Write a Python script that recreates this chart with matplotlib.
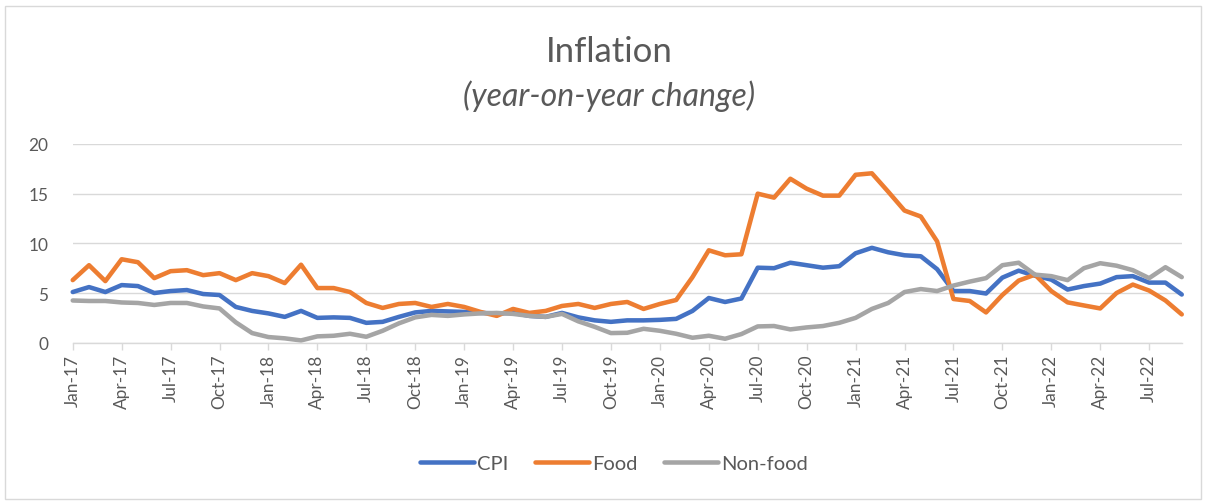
"""
Inflation chart: CPI, food and non-food, year-on-year change, monthly.
"""

import matplotlib.pyplot as plt
import numpy as np
from matplotlib.patches import Rectangle

# monthly values, Jan-17 .. Sep-22
cpi = [
    5.1, 5.6, 5.1, 5.8, 5.7, 5.0, 5.2, 5.3, 4.9, 4.8, 3.6, 3.2,
    2.95, 2.6, 3.2, 2.5, 2.55, 2.5, 2.0, 2.1, 2.6, 3.05, 3.2, 3.15,
    3.1, 3.0, 2.95, 3.0, 2.7, 2.6, 3.0, 2.55, 2.25, 2.1, 2.25, 2.25,
    2.3, 2.4, 3.2, 4.5, 4.1, 4.45, 7.55, 7.5, 8.05, 7.8, 7.55, 7.7,
    9.0, 9.55, 9.1, 8.8, 8.7, 7.4, 5.2, 5.2, 4.95, 6.55, 7.25, 6.75,
    6.35, 5.35, 5.7, 5.95, 6.6, 6.7, 6.05, 6.05, 4.85,
]
food = [
    6.3, 7.8, 6.2, 8.4, 8.1, 6.5, 7.2, 7.3, 6.8, 7.0, 6.3, 7.0,
    6.7, 6.0, 7.85, 5.5, 5.5, 5.1, 4.0, 3.5, 3.9, 4.0, 3.6, 3.9,
    3.6, 3.1, 2.7, 3.4, 3.0, 3.2, 3.7, 3.9, 3.5, 3.9, 4.1, 3.4,
    3.9, 4.3, 6.6, 9.3, 8.8, 8.9, 15.0, 14.6, 16.5, 15.5, 14.8, 14.8,
    16.9, 17.05, 15.2, 13.3, 12.7, 10.2, 4.4, 4.2, 3.05, 4.8, 6.25, 6.85,
    5.2, 4.06, 3.75, 3.45, 5.0, 5.85, 5.25, 4.25, 2.85,
]
non_food = [
    4.25, 4.2, 4.2, 4.05, 4.0, 3.8, 4.0, 4.0, 3.65, 3.45, 2.05, 0.97,
    0.57, 0.44, 0.23, 0.64, 0.7, 0.9, 0.6, 1.2, 1.95, 2.55, 2.8, 2.7,
    2.85, 2.95, 3.0, 2.9, 2.7, 2.6, 2.9, 2.15, 1.6, 0.97, 1.0, 1.4,
    1.2, 0.9, 0.5, 0.7, 0.4, 0.87, 1.64, 1.68, 1.34, 1.54, 1.68, 2.0,
    2.5, 3.4, 4.0, 5.1, 5.4, 5.2, 5.75, 6.15, 6.5, 7.8, 8.05, 6.85,
    6.7, 6.3, 7.5, 8.0, 7.75, 7.3, 6.5, 7.6, 6.6,
]

# one label every third month
tick_labels = [
    "Jan-17", "Apr-17", "Jul-17", "Oct-17",
    "Jan-18", "Apr-18", "Jul-18", "Oct-18",
    "Jan-19", "Apr-19", "Jul-19", "Oct-19",
    "Jan-20", "Apr-20", "Jul-20", "Oct-20",
    "Jan-21", "Apr-21", "Jul-21", "Oct-21",
    "Jan-22", "Apr-22", "Jul-22",
]

series_names = ["CPI", "Food", "Non-food"]
series_colors = ["#4472C4", "#ED7D31", "#A5A5A5"]

TEXT = "#595959"
GRID = "#D9D9D9"


def main():
    plt.rcParams["font.family"] = ["Lato", "DejaVu Sans"]

    fig = plt.figure(figsize=(12.06, 5.02), dpi=100)
    ax = fig.add_axes([0.0603, 0.3153, 0.9196, 0.3959])

    x = np.arange(len(cpi))
    handles = []
    for values, name, color in zip([cpi, food, non_food], series_names, series_colors):
        (line,) = ax.plot(
            x,
            values,
            color=color,
            linewidth=3.25,
            solid_joinstyle="round",
            solid_capstyle="round",
            clip_on=False,
            label=name,
        )
        handles.append(line)

    ax.set_xlim(0, len(cpi) - 1)
    ax.set_ylim(0, 20)
    ax.set_yticks([0, 5, 10, 15, 20])
    ax.set_xticks(x[::3])
    ax.set_xticklabels(tick_labels, rotation=90)

    ax.yaxis.grid(True, color=GRID, linewidth=1.0)
    ax.set_axisbelow(True)
    for side in ["top", "right", "left"]:
        ax.spines[side].set_visible(False)
    ax.spines["bottom"].set_color(GRID)
    ax.spines["bottom"].set_linewidth(1.0)

    ax.tick_params(axis="x", length=5, width=1, color=GRID,
                   labelcolor=TEXT, labelsize=12.4, pad=3)
    ax.tick_params(axis="y", length=0, labelcolor=TEXT,
                   labelsize=12.4, pad=17.5)

    fig.text(0.505, 0.897, "Inflation", ha="center", va="center",
             fontsize=25, color=TEXT)
    fig.text(0.505, 0.809, "(year-on-year change)", ha="center", va="center",
             fontsize=23, color=TEXT, style="italic")

    fig.legend(
        handles,
        series_names,
        loc="center",
        bbox_to_anchor=(0.509, 0.074),
        ncol=3,
        frameon=False,
        fontsize=14.5,
        handlelength=2.7,
        handletextpad=0.15,
        columnspacing=1.3,
        labelcolor=TEXT,
    )

    # light chart-area border
    fig.patches.append(
        Rectangle((5 / 1206, 2 / 502), 1196 / 1206, 493 / 502,
                  transform=fig.transFigure, fill=False,
                  edgecolor=GRID, linewidth=1.0)
    )

    fig.savefig("out.png", dpi=100)


if __name__ == "__main__":
    main()
